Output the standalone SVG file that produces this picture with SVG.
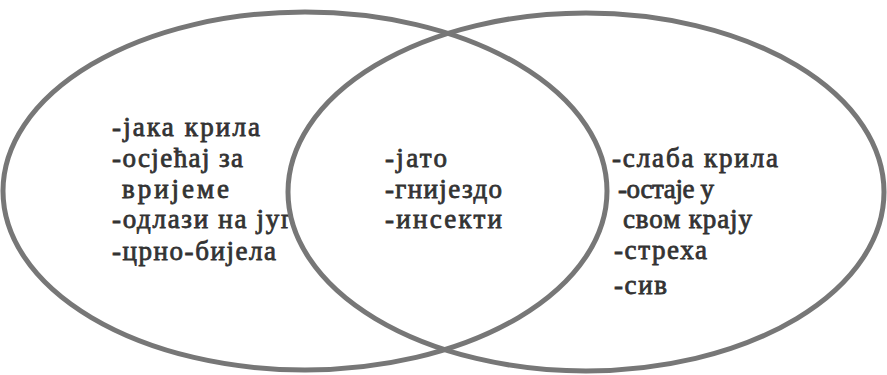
<svg xmlns="http://www.w3.org/2000/svg" width="887" height="375" viewBox="0 0 887 375">
<style>
.ring{fill:none;stroke:#777777;stroke-width:5}
.t{font-family:"Liberation Serif","DejaVu Serif",serif;font-size:27px;fill:#333333;stroke:#333333;stroke-width:0.8}
</style>
<rect width="887" height="375" fill="#ffffff"/>
<g id="left-set">
<text class="t" x="112" y="136" textLength="148">-јака крила</text>
<text class="t" x="112" y="167" textLength="131">-осјећај за</text>
<text class="t" x="122" y="198" textLength="107">вријеме</text>
<text class="t" x="112" y="228" textLength="180">-одлази на југ</text>
<text class="t" x="112" y="260" textLength="164">-црно-бијела</text>
<ellipse class="ring" cx="305" cy="191" rx="302" ry="179"/>
</g>
<g id="right-set">
<ellipse class="ring" cx="586" cy="192" rx="298" ry="179"/>
<text class="t" x="612" y="167" textLength="166">-слаба крила</text>
<text class="t" x="618" y="198" textLength="96">-остаје у</text>
<text class="t" x="623" y="228" textLength="129">свом крају</text>
<text class="t" x="614" y="259" textLength="93">-стреха</text>
<text class="t" x="614" y="294" textLength="53">-сив</text>
</g>
<g id="intersection">
<text class="t" x="385" y="167" textLength="62">-јато</text>
<text class="t" x="385" y="198" textLength="117">-гнијездо</text>
<text class="t" x="385" y="228" textLength="117">-инсекти</text>
</g>
<g id="connectors"></g>
</svg>
